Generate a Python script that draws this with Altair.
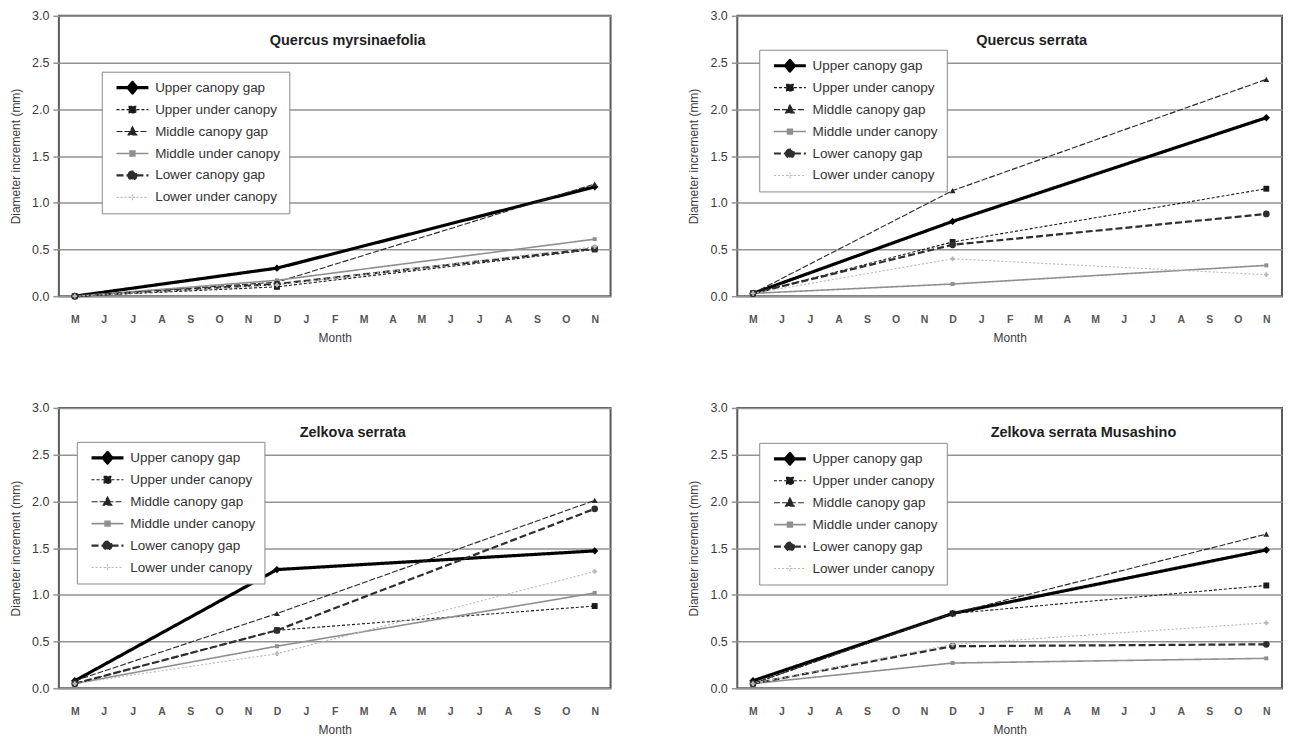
import altair as alt
import pandas as pd

# ---------------- data ----------------
months = ["M", "J", "J", "A", "S", "O", "N", "D", "J", "F",
          "M", "A", "M", "J", "J", "A", "S", "O", "N"]
month_keys = [f"{i:02d}{m}" for i, m in enumerate(months)]
obs_positions = [0, 7, 18]          # measurements taken in May, December, November

series = ["Upper canopy gap", "Upper under canopy", "Middle canopy gap",
          "Middle under canopy", "Lower canopy gap", "Lower under canopy"]

panel_titles = ["Quercus myrsinaefolia", "Quercus serrata",
                "Zelkova serrata", "Zelkova serrata Musashino"]

# rows follow `series`, columns follow `obs_positions`
quercus_myrsinaefolia = [
    [0.00, 0.30, 1.17],
    [0.00, 0.10, 0.50],
    [0.00, 0.15, 1.20],
    [0.00, 0.17, 0.61],
    [0.00, 0.13, 0.51],
    [0.00, 0.12, 0.53],
]
quercus_serrata = [
    [0.03, 0.80, 1.91],
    [0.03, 0.58, 1.15],
    [0.03, 1.13, 2.32],
    [0.03, 0.13, 0.33],
    [0.03, 0.55, 0.88],
    [0.03, 0.40, 0.23],
]
zelkova_serrata = [
    [0.08, 1.27, 1.47],
    [0.05, 0.62, 0.88],
    [0.08, 0.80, 2.01],
    [0.05, 0.45, 1.02],
    [0.05, 0.62, 1.92],
    [0.05, 0.37, 1.25],
]
zelkova_serrata_musashino = [
    [0.08, 0.80, 1.48],
    [0.05, 0.80, 1.10],
    [0.05, 0.80, 1.65],
    [0.05, 0.27, 0.32],
    [0.05, 0.45, 0.47],
    [0.05, 0.47, 0.70],
]
panels = [quercus_myrsinaefolia, quercus_serrata, zelkova_serrata, zelkova_serrata_musashino]
y_ticks = [0.0, 0.5, 1.0, 1.5, 2.0, 2.5, 3.0]

# ---------------- styles ----------------
FONT = "Liberation Sans"
line_colors = ["#000000", "#1a1a1a", "#262626", "#8f8f8f", "#2e2e2e", "#b8b8b8"]
line_widths = [3.2, 1.1, 1.1, 1.6, 2.2, 1.1]
line_dashes = [[1, 0], [3, 2], [6, 2], [1, 0], [7, 3], [2, 2]]
marker_shapes = ["diamond", "square", "triangle-up", "square", "circle", "cross"]
marker_sizes = [55, 35, 35, 16, 45, 22]
legend_paths = [
    "M-4,0H4M0,-1.3L1.1,0L0,1.3L-1.1,0Z",
    "M-4,0H4M-0.85,-0.85H0.85V0.85H-0.85Z",
    "M-4,0H4M0,-1.2L1.1,0.85H-1.1Z",
    "M-4,0H4M-0.6,-0.6H0.6V0.6H-0.6Z",
    "M-4,0H4M-1,0A1,1,0,1,1,1,0A1,1,0,1,1,-1,0Z",
    "M-4,0H4M-0.8,0H0.8M0,-0.8V0.8",
]
legend_x = [43, 22, 18, 22]
legend_y = [56, 34, 34, 35]
title_dx = [13, 22, 18, 74]
plot_w = [553, 546, 553, 546]
plot_h = 281


def make_panel(i):
    rows = []
    for s, name in enumerate(series):
        for k, pos in enumerate(obs_positions):
            rows.append({"series": name, "month": month_keys[pos], "pos": pos,
                         "value": panels[i][s][k]})
    df = pd.DataFrame(rows)

    x = alt.X("month:O",
              scale=alt.Scale(type="point", domain=month_keys, padding=0.55),
              axis=alt.Axis(title="Month", labelExpr="substring(datum.label, 2)",
                            labelAngle=0, grid=False, domain=False, ticks=False,
                            labelPadding=18, labelFontSize=10.5, labelFontWeight="bold",
                            labelColor="#555555", titleFontSize=12, titleFontWeight="normal",
                            titlePadding=8, titleColor="#3a3a3a",
                            labelFont=FONT, titleFont=FONT))
    y = alt.Y("value:Q",
              scale=alt.Scale(domain=[0, 3], nice=False),
              axis=alt.Axis(title="Diameter increment (mm)", values=y_ticks, format=".1f",
                            grid=True, gridColor="#939393", gridWidth=1.5, domain=False,
                            ticks=True, tickColor="#939393", tickSize=6, tickWidth=1.5,
                            labelPadding=4, labelFontSize=12.5, labelColor="#3a3a3a",
                            titleFontSize=12, titleFontWeight="normal", titleColor="#3a3a3a",
                            titlePadding=9, labelFont=FONT, titleFont=FONT))
    base = alt.Chart(df).encode(x=x, y=y)

    lines = base.mark_line().encode(
        color=alt.Color("series:N", scale=alt.Scale(domain=series, range=line_colors), legend=None),
        strokeDash=alt.StrokeDash("series:N", scale=alt.Scale(domain=series, range=line_dashes), legend=None),
        strokeWidth=alt.StrokeWidth("series:N", scale=alt.Scale(type="ordinal", domain=series, range=line_widths), legend=None),
        order=alt.Order("pos:Q"),
    )
    markers = [
        base.transform_filter(alt.datum.series == name).mark_point(
            filled=True, shape=marker_shapes[s], size=marker_sizes[s],
            color=line_colors[s], opacity=1)
        for s, name in enumerate(series)
    ]
    leg = alt.Legend(title=None, orient="none", legendX=legend_x[i], legendY=legend_y[i],
                     symbolSize=64, symbolOffset=15, labelOffset=16, padding=9,
                     rowPadding=8, clipHeight=14, strokeColor="#8a8a8a", fillColor="white",
                     labelFontSize=13.5, labelColor="#333333", labelFont=FONT)
    legend_layer = base.transform_filter("false").mark_point(filled=True, opacity=1).encode(
        fill=alt.Fill("series:N", scale=alt.Scale(domain=series, range=line_colors), legend=leg),
        stroke=alt.Stroke("series:N", scale=alt.Scale(domain=series, range=line_colors), legend=leg),
        shape=alt.Shape("series:N", scale=alt.Scale(domain=series, range=legend_paths), legend=leg),
        strokeDash=alt.StrokeDash("series:N", scale=alt.Scale(domain=series, range=line_dashes), legend=leg),
        strokeWidth=alt.StrokeWidth("series:N", scale=alt.Scale(type="ordinal", domain=series, range=line_widths), legend=leg),
    )
    return alt.layer(lines, *markers, legend_layer).resolve_scale(
        fill="independent", stroke="independent", shape="independent",
        strokeDash="independent", strokeWidth="independent",
    ).properties(
        width=plot_w[i], height=plot_h,
        title=alt.TitleParams(text=panel_titles[i], anchor="middle", frame="group",
                              offset=-39, dx=title_dx[i], fontSize=14.5, fontWeight="bold",
                              font=FONT, color="#1e1e1e"),
    )


chart = alt.concat(*[make_panel(i) for i in range(4)], columns=2,
                   spacing={"row": 56, "column": 75}).resolve_scale(
    x="independent", y="independent", color="independent"
).properties(padding=0).configure_view(stroke="#5a5a5a", strokeWidth=2)

chart.save("out.html", embed_options={"renderer": "svg", "actions": False})
